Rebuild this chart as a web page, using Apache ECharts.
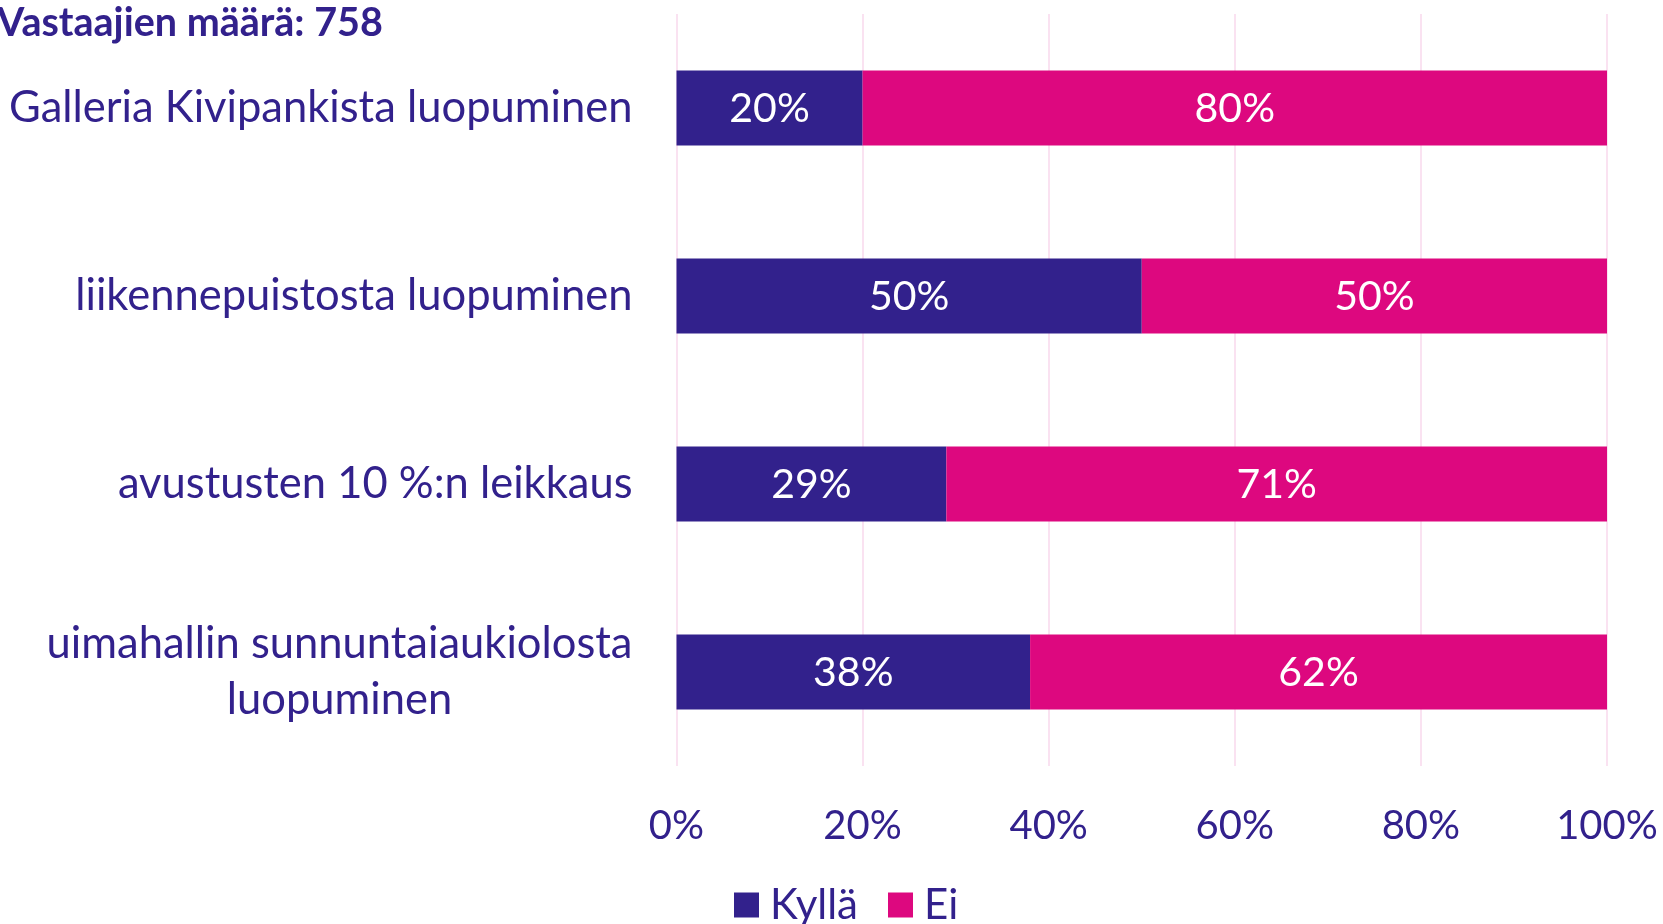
<!DOCTYPE html>
<html>
<head>
<meta charset="utf-8">
<script src="https://cdn.jsdelivr.net/npm/echarts@6/dist/echarts.min.js"></script>
<style>html,body{margin:0;padding:0;background:#fff}#c{width:1663px;height:924px}</style>
</head>
<body>
<div id="c"></div>
<script>
const categories = ['Galleria Kivipankista luopuminen', 'liikennepuistosta luopuminen', 'avustusten 10 %:n leikkaus', 'uimahallin sunnuntaiaukiolosta\nluopuminen'];
const kylla = [20, 50, 29, 38];
const ei = [80, 50, 71, 62];
const xTicks = [0, 20, 40, 60, 80, 100];
const seriesNames = ['Kyllä', 'Ei'];
const titleText = 'Vastaajien määrä: 758';

const FONT = 'Lato';
const DARK = '#32218C';
const PINK = '#DD087F';
const CAT_SIZE = 43.5;

const ctx = document.createElement('canvas').getContext('2d');
ctx.font = CAT_SIZE + 'px ' + FONT;
function lineW(s){ return Math.ceil(ctx.measureText(s).width); }

const chart = echarts.init(document.getElementById('c'));
chart.setOption({
  animation: false,
  title: {
    text: titleText, left: -8, top: -5,
    textStyle: {fontFamily: FONT, fontWeight: 'bold', fontSize: 39.5, color: DARK, lineHeight: 46}
  },
  legend: {
    left: 729, top: 879, itemWidth: 25, itemHeight: 25, itemGap: 30,
    icon: 'rect',
    textStyle: {fontFamily: FONT, fontSize: 42, color: DARK, padding: [0, 0, 0, 6]},
    data: seriesNames
  },
  grid: {left: 676.5, right: 56, top: 14, height: 752, containLabel: false},
  xAxis: {
    type: 'value', min: xTicks[0], max: xTicks[xTicks.length - 1], interval: 20,
    axisLine: {show: false}, axisTick: {show: false},
    splitLine: {lineStyle: {color: '#F9D9EC', width: 1.5}},
    axisLabel: {formatter: '{value}%', fontFamily: FONT, fontSize: 40, color: DARK, margin: 40}
  },
  yAxis: {
    type: 'category', inverse: true, data: categories,
    axisLine: {show: false}, axisTick: {show: false},
    axisLabel: {
      margin: 44, fontFamily: FONT, fontSize: CAT_SIZE, color: DARK, lineHeight: 56,
      formatter: function (v) {
        const lines = v.split('\n');
        if (lines.length === 1) return v;
        return lines.map(l => '{c|' + l + '}').join('\n');
      },
      rich: {c: {fontFamily: FONT, fontSize: CAT_SIZE, color: DARK, lineHeight: 56, align: 'center',
        width: lineW('uimahallin sunnuntaiaukiolosta')}}
    }
  },
  series: [
    {name: seriesNames[0], type: 'bar', stack: 't', data: kylla, barWidth: 75,
     itemStyle: {color: DARK},
     label: {show: true, position: 'inside', formatter: '{c}%', color: '#fff', fontFamily: FONT, fontSize: 41, offset: [0, 1]}},
    {name: seriesNames[1], type: 'bar', stack: 't', data: ei, barWidth: 75,
     itemStyle: {color: PINK},
     label: {show: true, position: 'inside', formatter: '{c}%', color: '#fff', fontFamily: FONT, fontSize: 41, offset: [0, 1]}}
  ]
});
</script>
</body>
</html>
